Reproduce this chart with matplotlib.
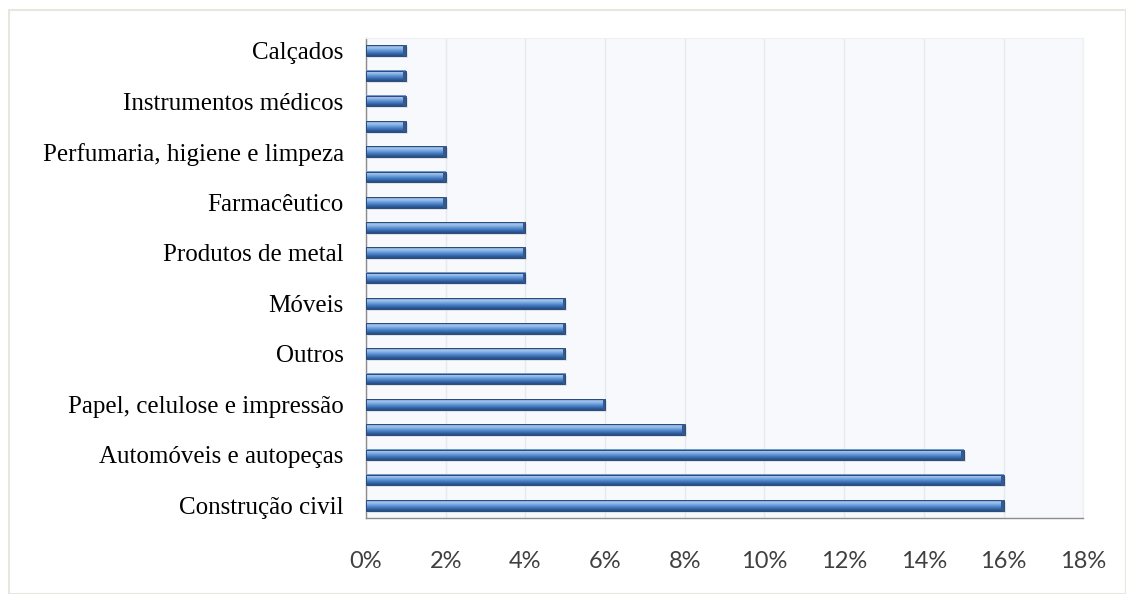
import numpy as np
import matplotlib.pyplot as plt
from matplotlib.colors import LinearSegmentedColormap
from matplotlib.patches import Rectangle

# sectors, bottom to top (only every other one carries a label, as in the original)
sectors = ['Construção civil', '', 'Automóveis e autopeças', '', 'Papel, celulose e impressão',
           '', 'Outros', '', 'Móveis', '', 'Produtos de metal', '', 'Farmacêutico', '',
           'Perfumaria, higiene e limpeza', '', 'Instrumentos médicos', '', 'Calçados']
shares = [16, 16, 15, 8, 6, 5, 5, 5, 5, 4, 4, 4, 2, 2, 2, 1, 1, 1, 1]
xticks = [0, 2, 4, 6, 8, 10, 12, 14, 16, 18]

bar_h = 0.42
# light top -> dark bottom, imitates the excel "cylinder" look
bar_cmap = LinearSegmentedColormap.from_list('bar', ['#24497e', '#3567a8', '#4f86cc', '#7aa8e0', '#a9c8ee', '#5b8bc8'])
grad = np.linspace(0, 1, 64).reshape(-1, 1)

fig = plt.figure(figsize=(11.26, 5.94), dpi=100)
fig.patch.set_facecolor('white')
fig.patches.append(Rectangle((0.008, 0.0), 0.992, 0.983, transform=fig.transFigure,
                             fill=False, edgecolor='#e6e8de', linewidth=1.5))

ax = fig.add_axes([0.325, 0.128, 0.637, 0.808])
ax.set_facecolor('#f8f9fc')

ypos = np.arange(len(shares))
for y, v in zip(ypos, shares):
    # soft shadow under the bar
    ax.barh(y - 0.08, v, height=bar_h, left=0.05, color='#c9ccd2', alpha=0.5, zorder=2, linewidth=0)
    ax.imshow(grad, cmap=bar_cmap, aspect='auto', origin='lower',
              extent=[0, v, y - bar_h / 2, y + bar_h / 2], zorder=3, interpolation='bicubic')
    ax.barh(y, v, height=bar_h, fill=False, edgecolor='#2a4a78', linewidth=0.7, zorder=4)
    # darker bevel at the end
    ax.barh(y, 0.06, height=bar_h, left=v - 0.06, color='#34598f', linewidth=0, zorder=4)

ax.set_xlim(0, 18)
ax.set_ylim(-0.5, len(shares) - 0.5)
ax.set_xticks(xticks)
ax.set_xticklabels(['%d%%' % t for t in xticks], fontsize=17, family='Lato', color='#404040')
ax.set_yticks(ypos)
ax.set_yticklabels(sectors, fontsize=18, family='Liberation Serif', color='black')
ax.tick_params(axis='x', length=0, pad=24)
ax.tick_params(axis='y', length=0, pad=16)
ax.grid(axis='x', color='#e6e9ee', linewidth=1)
ax.set_axisbelow(True)
for s in ['top', 'right']:
    ax.spines[s].set_color('#eef0f3')
for s in ['left', 'bottom']:
    ax.spines[s].set_color('#8c8c8c')
    ax.spines[s].set_linewidth(1)

plt.savefig('out.png', dpi=100, facecolor='white')
